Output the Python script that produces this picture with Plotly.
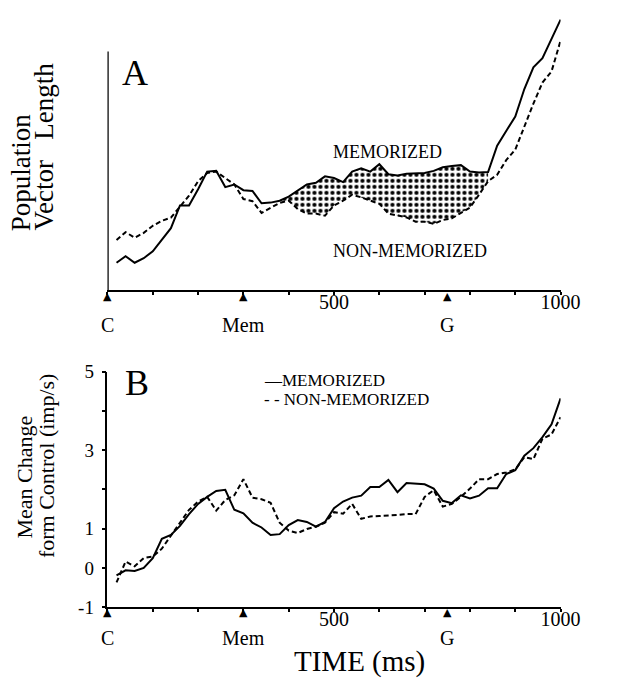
import plotly.graph_objects as go

# ---------------- data ----------------
time_ms = [20, 40, 60, 80, 100, 120, 140, 160, 180, 200,
           220, 240, 260, 280, 300, 320, 340, 360, 380, 400,
           420, 440, 460, 480, 500, 520, 540, 560, 580, 600,
           620, 640, 660, 680, 700, 720, 740, 760, 780, 800,
           820, 840, 860, 880, 900, 920, 940, 960, 980, 1000]

# Panel A: population vector length (arbitrary units)
popvec_memorized = [11.5, 14.2, 11.5, 13.4, 16.3, 21.0, 26.0, 35.5, 35.5, 42.3,
                    49.7, 50.0, 43.2, 44.3, 41.9, 41.6, 36.4, 36.7, 37.5, 39.2,
                    41.9, 44.3, 45.0, 47.7, 47.0, 45.3, 49.7, 51.1, 49.7, 52.8,
                    48.6, 48.1, 48.8, 49.1, 49.1, 50.0, 51.5, 52.0, 52.4, 49.7,
                    49.3, 49.5, 60.6, 66.7, 72.8, 84.3, 93.4, 97.2, 105.3, 113.4]
popvec_nonmemorized = [21.0, 24.3, 22.0, 24.0, 27.0, 29.1, 30.4, 35.1, 39.6, 45.7,
                       49.1, 49.7, 47.0, 44.3, 38.2, 37.3, 32.4, 34.6, 36.6, 37.5,
                       34.0, 32.1, 32.1, 31.2, 35.5, 37.5, 40.0, 38.9, 37.5, 36.2,
                       32.1, 31.4, 30.5, 28.7, 28.7, 27.8, 29.4, 30.1, 32.4, 34.6,
                       40.0, 45.7, 48.4, 54.5, 58.9, 68.7, 78.2, 87.0, 91.7, 104.6]
shade_start, shade_end = 380, 840

# Panel B: mean change from control (imp/s)
rate_memorized = [-0.19, -0.06, -0.08, 0.00, 0.25, 0.74, 0.84, 1.07, 1.37, 1.63,
                  1.81, 1.96, 1.99, 1.48, 1.39, 1.15, 1.03, 0.84, 0.86, 1.09,
                  1.22, 1.17, 1.05, 1.17, 1.52, 1.69, 1.79, 1.84, 2.06, 2.06,
                  2.24, 1.93, 2.16, 2.14, 2.13, 2.02, 1.71, 1.65, 1.85, 1.77,
                  1.84, 2.03, 2.03, 2.39, 2.49, 2.86, 3.05, 3.33, 3.66, 4.32]
rate_nonmemorized = [-0.37, 0.16, 0.04, 0.25, 0.29, 0.49, 0.82, 1.15, 1.48, 1.69,
                     1.81, 1.46, 1.73, 1.85, 2.26, 1.79, 1.75, 1.66, 1.15, 0.95,
                     0.89, 0.99, 1.05, 1.15, 1.42, 1.38, 1.63, 1.25, 1.31, 1.32,
                     1.33, 1.35, 1.37, 1.37, 1.81, 1.98, 1.56, 1.63, 1.81, 2.02,
                     2.26, 2.26, 2.39, 2.43, 2.51, 2.82, 2.77, 3.29, 3.40, 3.84]

event_times = [0, 300, 750]
event_labels = ["C", "Mem", "G"]
x_tick_values = [0, 100, 200, 300, 400, 500, 600, 700, 800, 900, 1000]
x_tick_labels = ["", "", "", "", "", "500", "", "", "", "", "1000"]
yB_tick_values = [-1, 0, 1, 2, 3, 4, 5]
yB_tick_labels = ["-1", "0", "1", "", "3", "", "5"]

# ---------------- figure ----------------
W, H = 629, 687
FONT = "Liberation Serif, Times New Roman, serif"


def px_x(p):
    return p / W


def px_y(p):
    return 1 - p / H


fig = go.Figure()

# shaded (dotted) region between curves in panel A
sel = [i for i, t in enumerate(time_ms) if shade_start <= t <= shade_end]
poly_x = [time_ms[i] for i in sel] + [time_ms[i] for i in reversed(sel)]
poly_y = [popvec_memorized[i] for i in sel] + [popvec_nonmemorized[i] for i in reversed(sel)]
fig.add_trace(go.Scatter(
    x=poly_x, y=poly_y, fill="toself", mode="lines",
    line=dict(width=0, color="rgba(0,0,0,0)"),
    fillcolor="white",
    fillpattern=dict(shape=".", fgcolor="black", bgcolor="white",
                     size=6, solidity=0.38, fgopacity=1),
    xaxis="x", yaxis="y", showlegend=False, hoverinfo="skip"))

line_solid = dict(color="black", width=2)
line_dash = dict(color="black", width=2, dash="5px,3px")

fig.add_trace(go.Scatter(x=time_ms, y=popvec_nonmemorized, mode="lines", line=line_dash,
                         xaxis="x", yaxis="y", showlegend=False, cliponaxis=False))
fig.add_trace(go.Scatter(x=time_ms, y=popvec_memorized, mode="lines", line=line_solid,
                         xaxis="x", yaxis="y", showlegend=False, cliponaxis=False))
fig.add_trace(go.Scatter(x=time_ms, y=rate_nonmemorized, mode="lines", line=line_dash,
                         xaxis="x2", yaxis="y2", showlegend=False, cliponaxis=False))
fig.add_trace(go.Scatter(x=time_ms, y=rate_memorized, mode="lines", line=line_solid,
                         xaxis="x2", yaxis="y2", showlegend=False, cliponaxis=False))

A_RANGE = [0, 115]
B_RANGE = [-1, 5]

xdom = [px_x(111), px_x(579)]
common_x = dict(range=[0, 1000], domain=xdom, showline=True, linecolor="black", linewidth=1.5,
                ticks="outside", ticklen=3, tickwidth=1.5, tickcolor="black",
                tickvals=x_tick_values, ticktext=x_tick_labels,
                tickfont=dict(family=FONT, size=20, color="black"),
                ticklabelstandoff=-10,
                showgrid=False, zeroline=False, fixedrange=True)

fig.update_layout(
    width=W, height=H, margin=dict(l=0, r=0, t=0, b=0),
    paper_bgcolor="white", plot_bgcolor="white",
    font=dict(family=FONT, color="black"),
    xaxis=dict(common_x, anchor="y"),
    yaxis=dict(range=A_RANGE, domain=[px_y(289), px_y(6)], anchor="x",
               showline=False, showticklabels=False, ticks="", showgrid=False,
               zeroline=False, fixedrange=True),
    xaxis2=dict(common_x, anchor="y2"),
    yaxis2=dict(range=B_RANGE, domain=[px_y(616), px_y(373)], anchor="x2",
                showline=True, linecolor="black", linewidth=1.5,
                ticks="outside", ticklen=4, tickwidth=1.5, tickcolor="black",
                tickvals=yB_tick_values, ticktext=yB_tick_labels,
                tickfont=dict(family=FONT, size=19, color="black"),
                ticklabelstandoff=4,
                showgrid=False, zeroline=False, fixedrange=True),
)

# panel A vertical axis line (only up to 100)
fig.add_shape(type="line", xref="x", yref="y", x0=0, x1=0, y0=0, y1=100,
              line=dict(color="black", width=2.5))

ann = []


def text(x, y, s, size, xanchor="center", yanchor="middle", angle=0,
         xref="paper", yref="paper", family=FONT):
    ann.append(dict(x=x, y=y, xref=xref, yref=yref, text=s, showarrow=False,
                    xanchor=xanchor, yanchor=yanchor, textangle=angle,
                    font=dict(family=family, size=size, color="black")))


# event triangles and labels below each x axis
for t, lab in zip(event_times, event_labels):
    text(t, px_y(296), "\u25B2", 11, xref="x", family="DejaVu Sans")
    text(t, px_y(622), "\u25B2", 11, xref="x2", family="DejaVu Sans")
    text(t, px_y(325), lab, 20, xref="x")
    text(t, px_y(648), lab, 20, xref="x2")

# panel letters
text(px_x(139), px_y(65), "A", 36)
text(px_x(141), px_y(385), "B", 36)

# panel A curve labels
text(px_x(400), px_y(146), "MEMORIZED", 18)
text(px_x(423), px_y(249), "NON-MEMORIZED", 18)

# panel B legend text
text(px_x(271), px_y(382), "\u2014MEMORIZED", 17, xanchor="left")
text(px_x(271), px_y(402), "- - NON-MEMORIZED", 17, xanchor="left")

# y-axis titles
text(px_x(22), px_y(230), "Population", 27, yanchor="bottom", angle=-90)
text(px_x(45), px_y(230), "Vector\u00a0\u00a0\u00a0Length", 27, yanchor="bottom", angle=-90)
text(px_x(25), px_y(482), "Mean Change", 22, angle=-90)
text(px_x(48), px_y(470), "form Control (imp/s)", 22, angle=-90)

# x-axis title
text(px_x(371), px_y(672), "TIME (ms)", 29)

fig.update_layout(annotations=ann)

fig.write_html("out.html")
